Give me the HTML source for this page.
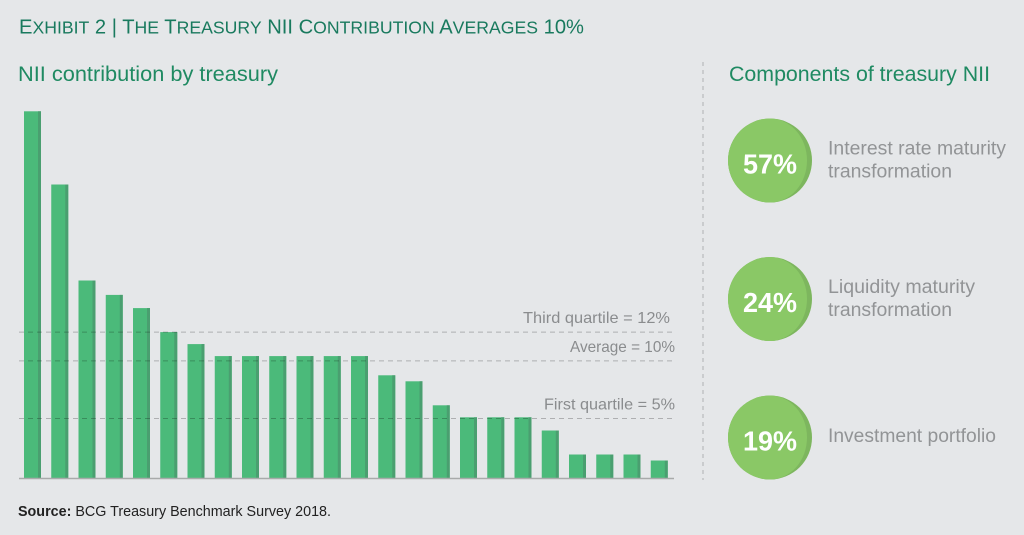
<!DOCTYPE html>
<html lang="en">
<head>
<meta charset="utf-8">
<title>Exhibit 2 | The Treasury NII Contribution Averages 10%</title>
<style>
html,body{margin:0;padding:0;background:#e5e7e9;}
svg{display:block;font-family:"Liberation Sans",sans-serif;}
.sc{text-transform:uppercase;font-size:17.5px;}
</style>
</head>
<body>
<svg id="chart" width="1024" height="535" viewBox="0 0 1024 535" xmlns="http://www.w3.org/2000/svg">
  <rect width="1024" height="535" fill="#e5e7e9"/>
  <text x="19" y="33.5" font-size="20" fill="#197a5e" textLength="565" lengthAdjust="spacingAndGlyphs">E<tspan class="sc">xhibit</tspan> 2 | T<tspan class="sc">he</tspan> T<tspan class="sc">reasury</tspan> NII C<tspan class="sc">ontribution</tspan> A<tspan class="sc">verages</tspan> 10%</text>
  <text x="18" y="81" font-size="21" fill="#1f8a62" textLength="260" lengthAdjust="spacingAndGlyphs">NII contribution by treasury</text>
  <text x="729" y="81" font-size="21" fill="#1f8a62" textLength="261" lengthAdjust="spacingAndGlyphs">Components of treasury NII</text>
  <line x1="703" y1="62" x2="703" y2="480" stroke="#aeb0b2" stroke-width="1" stroke-dasharray="4 4"/>
  <g id="bars"></g>
  <g id="refs"></g>
  <line x1="19" y1="478.5" x2="674" y2="478.5" stroke="#a8aaaa" stroke-width="1.4"/>
  <g id="components"></g>
  <text x="18" y="516" font-size="14.5" fill="#222" textLength="313" lengthAdjust="spacingAndGlyphs"><tspan font-weight="bold">Source:</tspan> BCG Treasury Benchmark Survey 2018.</text>
</svg>
<script>
const barValues = [30.6, 24.5, 16.5, 15.3, 14.2, 12.2, 11.2, 10.2, 10.2, 10.2, 10.2, 10.2, 10.2, 8.6, 8.1, 6.1, 5.1, 5.1, 5.1, 4.0, 2.0, 2.0, 2.0, 1.5];
const refLabels = ["Third quartile = 12%", "Average = 10%", "First quartile = 5%"];
const refValues = [12.2, 9.8, 5.0];
const shareValues = [57, 24, 19];
const shareLabels = [["Interest rate maturity", "transformation"], ["Liquidity maturity", "transformation"], ["Investment portfolio"]];

const NS = "http://www.w3.org/2000/svg";
const baseY = 478.5, pxPerPct = 12.0;
function yScale(v) { return baseY - v * pxPerPct; }
function xScale(i) { return 24 + i * 27.25; }
function circleY(i) { return 160.5 + i * 138.5; }
function make(tag, attrs, parent) {
  const el = document.createElementNS(NS, tag);
  for (const k in attrs) el.setAttribute(k, attrs[k]);
  parent.appendChild(el);
  return el;
}

const barsG = document.getElementById("bars");
barValues.forEach(function (v, i) {
  const x = xScale(i), y = yScale(v), w = 17;
  const bar = make("rect", { x: x, y: y, width: w, height: baseY - y, fill: "#4bba7a" }, barsG);
  
  
  const edge = make("rect", { x: x + w - 3, y: y, width: 3, height: baseY - y, fill: "#4a9f70" }, barsG);
  
  
});

const refsG = document.getElementById("refs");
const refEnds = [670, 675, 675];
const refWidths = { "Third quartile = 12%": 147, "Average = 10%": 105, "First quartile = 5%": 131 };
refValues.forEach(function (v, i) {
  const y = yScale(v);
  const line = make("line", { x1: 19, y1: y, x2: 674, y2: y, stroke: "#000", "stroke-opacity": 0.24, "stroke-width": 1, "stroke-dasharray": "5 4" }, refsG);
  
  
  const w = refWidths[refLabels[i]];
  const t = make("text", { x: refEnds[i] - w, y: y - 9, "font-size": 16, fill: "#8a8c8e", textLength: w, lengthAdjust: "spacingAndGlyphs" }, refsG);
  t.textContent = refLabels[i];
  
  
});

const labelWidths = { "Interest rate maturity": 178, "Liquidity maturity": 147, "transformation": 124, "Investment portfolio": 168 };
const compG = document.getElementById("components");
shareValues.forEach(function (v, i) {
  const cy = circleY(i), cx = 770, r = 42;
  const back = make("circle", { cx: cx, cy: cy, r: r, fill: "#7db65e" }, compG);
  
  
  const d = "M" + cx + " " + (cy - r) + "A" + r + " " + r + " 0 0 0 " + cx + " " + (cy + r) + "A" + (r - 5) + " " + r + " 0 0 0 " + cx + " " + (cy - r) + "Z";
  const front = make("path", { d: d, fill: "#8ac866" }, compG);
  
  
  const pct = make("text", { x: 743, y: cy + 13, "font-size": 28, "font-weight": "bold", fill: "#fff", textLength: 54, lengthAdjust: "spacingAndGlyphs" }, compG);
  pct.textContent = v + "%";
  
  
  const lines = shareLabels[i];
  const startY = lines.length === 1 ? cy + 4.5 : cy - 6;
  lines.forEach(function (s, j) {
    const t = make("text", { x: 828, y: startY + j * 23, "font-size": 19, fill: "#929496", textLength: labelWidths[s], lengthAdjust: "spacingAndGlyphs" }, compG);
    t.textContent = s;
    
    
  });
});
</script>
</body>
</html>
